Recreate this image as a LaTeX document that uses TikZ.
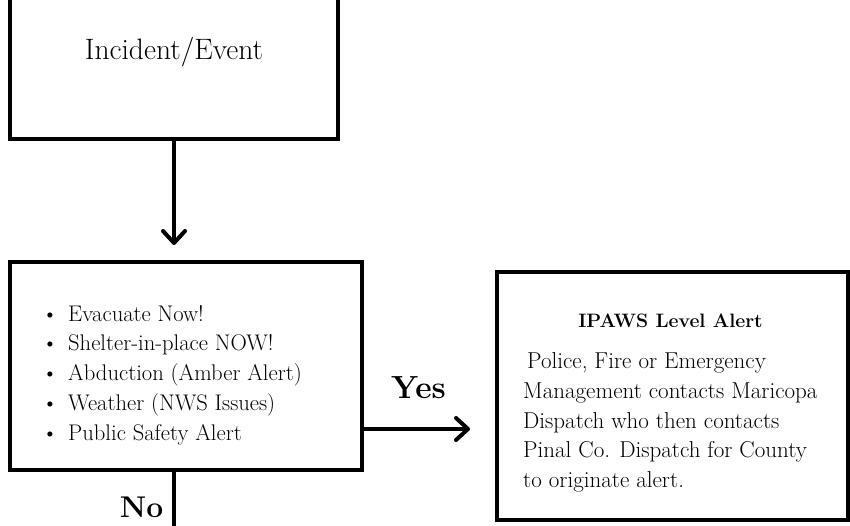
\documentclass[tikz,border=0pt]{standalone}
\usepackage{fontspec}
\usetikzlibrary{arrows.meta}
\begin{document}
\begin{tikzpicture}[x=1pt,y=-1pt,
  boxline/.style={draw=black,line width=4pt},
  flow/.style={line width=4pt,-{Straight Barb[length=12pt,width=22pt,line width=4pt,round]}},
  plain/.style={line width=4pt},
  lab/.style={font=\fontsize{32}{34}\selectfont\bfseries,inner sep=0pt,anchor=base},
  item/.style={font=\fontsize{22.6}{24}\selectfont,inner sep=0pt,anchor=base west},
  bul/.style={font=\fontsize{22.6}{24}\selectfont,inner sep=0pt,anchor=base},
  bodyline/.style={font=\fontsize{23}{24}\selectfont,inner sep=0pt,anchor=base west}]
\useasboundingbox (0,0) rectangle (850,526);
% box 1
\draw[boxline] (10,-20) rectangle (338,139);
\node[inner sep=0pt,anchor=base,font=\fontsize{29.5}{30}\selectfont] (t1) at (174,60) {Incident/Event};
\coordinate (b1) at (174,139);
% box 2
\draw[boxline] (10,262) rectangle (362,470);
\coordinate (b2bot) at (174,470);
\coordinate (b2right) at (362,429);
\node[bul] (d1) at (50,321) {\textbullet};
\node[bul] (d2) at (50,350.75) {\textbullet};
\node[bul] (d3) at (50,380.5) {\textbullet};
\node[bul] (d4) at (50,410.25) {\textbullet};
\node[bul] (d5) at (50,440) {\textbullet};
\node[item] (l1) at (68,321) {Evacuate Now!};
\node[item] (l2) at (68,350.75) {Shelter-in-place NOW!};
\node[item] (l3) at (68,380.5) {Abduction (Amber Alert)};
\node[item] (l4) at (68,410.25) {Weather (NWS Issues)};
\node[item] (l5) at (68,440) {Public Safety Alert};
% box 3
\draw[boxline] (497,272) rectangle (848,520);
\coordinate (b3left) at (497,429);
\node[inner sep=0pt,anchor=base,font=\fontsize{19.4}{20}\selectfont\bfseries] (title) at (670.5,327) {IPAWS Level Alert};
\node[bodyline] (p1) at (523,368) {\hspace{4pt}Police, Fire or Emergency};
\node[bodyline] (p2) at (523,398) {Management contacts Maricopa};
\node[bodyline] (p3) at (523,428) {Dispatch who then contacts};
\node[bodyline] (p4) at (523,457.5) {Pinal Co. Dispatch for County};
\node[bodyline] (p5) at (523,487) {to originate alert.};
% connectors
\draw[flow] (b1) -- (174,245);
\draw[flow] (b2right) -- (470,429);
\coordinate (bottomend) at (174,530);
\draw[plain] (b2bot) -- (bottomend);
\node[lab] (yes) at (418.5,398) {Yes};
\node[lab,font=\fontsize{30}{32}\selectfont\bfseries] (no) at (141.5,517) {No};
\end{tikzpicture}
\end{document}
